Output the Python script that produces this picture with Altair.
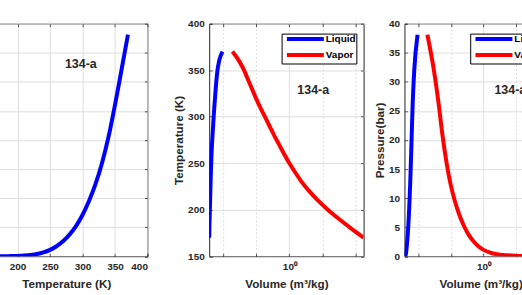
import altair as alt
import pandas as pd

# Saturation properties of refrigerant 134-a
temperature_k = [170, 180, 190, 200, 210, 220, 230, 240, 250, 260, 270,
                 280, 290, 300, 310, 320, 330, 340, 350, 360, 370]
pressure_bar = [0.006, 0.014, 0.032, 0.064, 0.12, 0.22, 0.38, 0.66, 1.10, 1.72, 2.58,
                3.72, 5.2, 7.1, 9.5, 12.4, 16.0, 20.5, 26.0, 32.0, 38.1]
volume_liquid = [0.00380, 0.00385, 0.00391, 0.00398, 0.00405, 0.00412, 0.00419,
                 0.00427, 0.00437, 0.00447, 0.00461, 0.00479, 0.00498, 0.00519,
                 0.00542, 0.00569, 0.00597, 0.00631, 0.00676, 0.00759, 0.00955]
volume_vapor = [173.8, 72.4, 31.6, 14.45, 7.24, 3.98, 2.34, 1.51, 1.00, 0.692, 0.490,
                0.347, 0.251, 0.182, 0.132, 0.0977, 0.0741, 0.0562, 0.0427, 0.0302, 0.0191]
phases = ["Liquid", "Vapor"]
label_text = "134-a"

FONT = "Liberation Sans"
INK = "#262626"
BLUE = "#0000FF"
RED = "#FF0000"
LW = 4
TICK = 3  # inward tick length

n = len(temperature_k)
sat = pd.DataFrame({"T": temperature_k, "P": pressure_bar})
dome = pd.DataFrame({
    "T": temperature_k * 2,
    "P": pressure_bar * 2,
    "v": volume_liquid + volume_vapor,
    "phase": [phases[0]] * n + [phases[1]] * n,
})

v_domain = [volume_liquid[0], volume_vapor[0]]
color_scale = alt.Scale(domain=phases, range=[BLUE, RED])

temp_ticks = list(range(150, 401, 50))
pres_ticks = list(range(0, 41, 5))
vol_ticks = [0.01, 0.1, 1, 10, 100]

s_temp = alt.Scale(domain=[150, 400], nice=False)
s_pres = alt.Scale(domain=[0, 40], nice=False)
s_vol = alt.Scale(type="log", domain=v_domain, nice=False)


def mirror(values, orient):
    # tick marks only, pointing into the plot from the opposite frame edge
    return alt.Axis(orient=orient, values=values, labels=False, title=None, grid=False,
                    ticks=True, tickSize=TICK, offset=-TICK)


# Primary axes (ticks pointing inward via a negative offset)
x_temp = alt.X("T:Q", scale=s_temp,
               axis=alt.Axis(values=temp_ticks[1:], title="Temperature (K)"))
y_pres_bare = alt.Y("P:Q", scale=s_pres,
                    axis=alt.Axis(values=pres_ticks, labels=False, title=None))
x_vol = alt.X("v:Q", scale=s_vol,
              axis=alt.Axis(
                  values=vol_ticks,
                  labelExpr="datum.value == 1 ? '10⁰' : ''",
                  gridDash={"condition": {"test": "datum.value == 1", "value": [1, 0]},
                            "value": [2, 2]},
                  title="Volume (m³/kg)"))
y_temp = alt.Y("T:Q", scale=s_temp,
               axis=alt.Axis(values=temp_ticks, title="Temperature (K)"))
y_pres = alt.Y("P:Q", scale=s_pres,
               axis=alt.Axis(values=pres_ticks, title="Pressure(bar)"))


def phase_legend(x):
    # a long horizontal stroke as the key symbol, with compact rows
    return alt.Legend(
        title=None, orient="none", legendX=x, legendY=10,
        symbolType="M-0.067,0H12.3", symbolSize=36, symbolStrokeWidth=LW,
        symbolFillColor="transparent",
        strokeColor="black", fillColor="white", padding=0.5, rowPadding=0,
        labelOffset=33.8, labelFont=FONT, labelFontSize=10, labelFontWeight="bold",
        labelColor="black", cornerRadius=0,
    )


def tag(xname, xval, yname, yval, xenc, yenc):
    df = pd.DataFrame({xname: [xval], yname: [yval], "t": [label_text]})
    return alt.Chart(df).mark_text(
        align="left", baseline="middle", font=FONT, fontSize=12.5,
        fontWeight="bold", color=INK,
    ).encode(x=xenc, y=yenc, text="t:N")


# Left: saturation pressure vs temperature
left_line = alt.Chart(sat).mark_line(
    color=BLUE, strokeWidth=LW, interpolate="monotone", clip=True
).encode(x=x_temp, y=y_pres_bare)
left = alt.layer(
    left_line,
    tag("T", 273, "P", 33,
        alt.X("T:Q", scale=s_temp, axis=mirror(temp_ticks, "top")),
        alt.Y("P:Q", scale=s_pres, axis=mirror(pres_ticks, "right"))),
).resolve_axis(x="independent", y="independent").properties(width=163, height=233.5)

# Middle: T-v diagram
mid_line = alt.Chart(dome).mark_line(strokeWidth=LW, interpolate="monotone", clip=True).encode(
    x=x_vol, y=y_temp,
    color=alt.Color("phase:N", scale=color_scale, legend=phase_legend(72.7)),
)
mid = alt.layer(
    mid_line,
    tag("v", 1.74, "T", 329,
        alt.X("v:Q", scale=s_vol, axis=mirror(vol_ticks, "top")),
        alt.Y("T:Q", scale=s_temp, axis=mirror(temp_ticks, "right"))),
).resolve_axis(x="independent", y="independent").properties(width=155, height=233.5)

# Right: P-v diagram
right_line = alt.Chart(dome).mark_line(strokeWidth=LW, interpolate="monotone", clip=True).encode(
    x=x_vol, y=y_pres,
    color=alt.Color("phase:N", scale=color_scale, legend=phase_legend(66)),
)
right = alt.layer(
    right_line,
    tag("v", 2.14, "P", 28.6,
        alt.X("v:Q", scale=s_vol, axis=mirror(vol_ticks, "top")),
        alt.Y("P:Q", scale=s_pres, axis=mirror(pres_ticks, "right"))),
).resolve_axis(x="independent", y="independent").properties(width=153, height=233.5)

pair = alt.hconcat(mid, right, spacing=41, bounds="flush").resolve_scale(color="independent")
chart = alt.hconcat(left, pair, spacing=62, bounds="flush").resolve_scale(
    color="independent"
).properties(
    padding={"left": -16, "top": 17.2, "right": -36, "bottom": 0},
    background="white",
).configure_view(
    stroke=INK, strokeWidth=1,
).configure_axis(
    labelFont=FONT, labelFontSize=10, labelFontWeight="bold", labelColor=INK,
    titleFont=FONT, titleFontSize=11.7, titleFontWeight="bold", titleColor=INK,
    gridColor="#dedede", gridWidth=1, domain=False,
    ticks=True, tickSize=TICK, tickColor=INK, tickWidth=0.8, offset=-TICK,
    labelPadding=5,
).configure_axisX(
    titlePadding=7,
).configure_axisY(
    titlePadding=3,
)

chart.save("out.html", embed_options={"renderer": "svg", "actions": False})
